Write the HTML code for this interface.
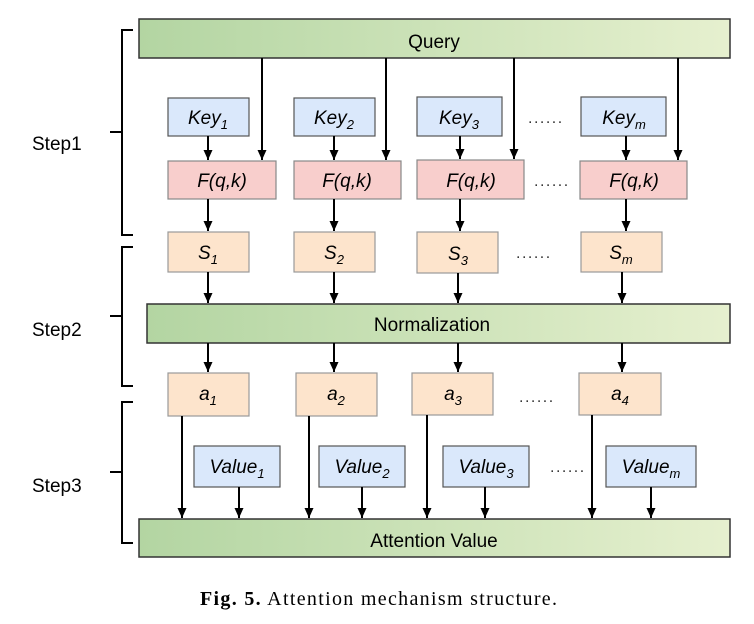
<!DOCTYPE html>
<html><head><meta charset="utf-8"><style>
body{margin:0;background:#fff}
svg{display:block}
text{font-family:"Liberation Sans",Arial,sans-serif}
</style></head><body>
<svg width="754" height="624" viewBox="0 0 754 624" xmlns="http://www.w3.org/2000/svg">
<defs>
<linearGradient id="g" x1="0" x2="1" y1="0" y2="0"><stop offset="0" stop-color="#b3d5a2"/><stop offset="1" stop-color="#e6f0cf"/></linearGradient>
<marker id="a" markerWidth="10" markerHeight="10" refX="10" refY="5" orient="auto" markerUnits="userSpaceOnUse"><path d="M0,0.5 L10,5 L0,9.5 Z" fill="#000"/></marker>
</defs>
<g fill="none" stroke="#000" stroke-width="2">
<path d="M133,30 H122 V235 H133 M122,132 H110"/>
<path d="M133,247 H122 V386 H133 M122,316 H110"/>
<path d="M133,402 H122 V543 H133 M122,472 H110"/>
</g>
<g font-size="19" fill="#000">
<text x="32" y="150">Step1</text>
<text x="32" y="336">Step2</text>
<text x="32" y="492">Step3</text>
</g>
<g stroke="#333" stroke-width="1.5">
<rect x="139" y="19" width="591" height="39" fill="url(#g)"/>
<rect x="147" y="304" width="583" height="39" fill="url(#g)"/>
<rect x="139" y="519" width="591" height="38" fill="url(#g)"/>
</g>
<g font-size="19" text-anchor="middle">
<text x="434" y="48">Query</text>
<text x="432" y="331">Normalization</text>
<text x="434" y="547">Attention Value</text>
</g>
<g stroke="#555" stroke-width="1.2" fill="#dae8fb">
<rect x="168" y="98" width="81" height="38"/><rect x="294" y="98" width="81" height="38"/><rect x="417" y="97" width="85" height="39"/><rect x="581" y="97" width="85" height="39"/>
<rect x="194" y="446" width="86" height="41"/><rect x="319" y="446" width="86" height="41"/><rect x="443" y="446" width="86" height="41"/><rect x="606" y="446" width="90" height="41"/>
</g>
<g stroke="#888" stroke-width="1.2" fill="#f8cecc">
<rect x="168" y="161" width="108" height="38"/><rect x="294" y="161" width="107" height="38"/><rect x="417" y="160" width="107" height="39"/><rect x="580" y="161" width="107" height="38"/>
</g>
<g stroke="#999" stroke-width="1.2" fill="#fde4cc">
<rect x="168" y="232" width="81" height="40"/><rect x="294" y="232" width="81" height="40"/><rect x="417" y="232" width="81" height="41"/><rect x="581" y="232" width="81" height="40"/>
<rect x="168" y="373" width="81" height="43"/><rect x="296" y="373" width="81" height="43"/><rect x="412" y="373" width="81" height="42"/><rect x="579" y="373" width="82" height="42"/>
</g>
<g font-size="19" font-style="italic" text-anchor="middle">
<text x="208" y="124">Key<tspan font-size="13" dy="5">1</tspan></text>
<text x="334" y="124">Key<tspan font-size="13" dy="5">2</tspan></text>
<text x="459" y="124">Key<tspan font-size="13" dy="5">3</tspan></text>
<text x="624" y="124">Key<tspan font-size="13" dy="5">m</tspan></text>
<text x="222" y="187">F(q,k)</text><text x="347" y="187">F(q,k)</text><text x="471" y="187">F(q,k)</text><text x="634" y="187">F(q,k)</text>
<text x="208" y="259">S<tspan font-size="13" dy="5">1</tspan></text>
<text x="334" y="259">S<tspan font-size="13" dy="5">2</tspan></text>
<text x="458" y="260">S<tspan font-size="13" dy="5">3</tspan></text>
<text x="621" y="259">S<tspan font-size="13" dy="5">m</tspan></text>
<text x="208" y="400">a<tspan font-size="13" dy="5">1</tspan></text>
<text x="336" y="400">a<tspan font-size="13" dy="5">2</tspan></text>
<text x="453" y="400">a<tspan font-size="13" dy="5">3</tspan></text>
<text x="620" y="400">a<tspan font-size="13" dy="5">4</tspan></text>
<text x="237" y="473">Value<tspan font-size="13" dy="5">1</tspan></text>
<text x="362" y="473">Value<tspan font-size="13" dy="5">2</tspan></text>
<text x="486" y="473">Value<tspan font-size="13" dy="5">3</tspan></text>
<text x="651" y="473">Value<tspan font-size="13" dy="5">m</tspan></text>
</g>
<g font-size="16" fill="#333" letter-spacing="1.5">
<text x="528" y="123">......</text><text x="534" y="186">......</text><text x="516" y="258">......</text><text x="519" y="402">......</text><text x="550" y="472">......</text>
</g>
<g stroke="#000" stroke-width="2" marker-end="url(#a)">
<line x1="262" y1="58" x2="262" y2="160"/><line x1="386" y1="58" x2="386" y2="160"/><line x1="514" y1="58" x2="514" y2="159"/><line x1="678" y1="58" x2="678" y2="160"/>
<line x1="208" y1="136" x2="208" y2="160"/><line x1="334" y1="136" x2="334" y2="160"/><line x1="460" y1="136" x2="460" y2="159"/><line x1="626" y1="136" x2="626" y2="160"/>
<line x1="208" y1="199" x2="208" y2="231"/><line x1="334" y1="199" x2="334" y2="231"/><line x1="460" y1="199" x2="460" y2="231"/><line x1="626" y1="199" x2="626" y2="231"/>
<line x1="208" y1="272" x2="208" y2="303"/><line x1="334" y1="272" x2="334" y2="303"/><line x1="458" y1="273" x2="458" y2="303"/><line x1="622" y1="272" x2="622" y2="303"/>
<line x1="208" y1="343" x2="208" y2="372"/><line x1="334" y1="343" x2="334" y2="372"/><line x1="458" y1="343" x2="458" y2="372"/><line x1="622" y1="343" x2="622" y2="372"/>
<line x1="182" y1="416" x2="182" y2="518"/><line x1="309" y1="416" x2="309" y2="518"/><line x1="427" y1="415" x2="427" y2="518"/><line x1="592" y1="415" x2="592" y2="518"/>
<line x1="239" y1="487" x2="239" y2="518"/><line x1="362" y1="487" x2="362" y2="518"/><line x1="485" y1="487" x2="485" y2="518"/><line x1="651" y1="487" x2="651" y2="518"/>
</g>
<text x="200" y="605" font-size="20" textLength="357" lengthAdjust="spacing" style="font-family:'Liberation Serif',serif"><tspan font-weight="bold">Fig. 5.</tspan>  Attention mechanism structure.</text>
</svg>
</body></html>
